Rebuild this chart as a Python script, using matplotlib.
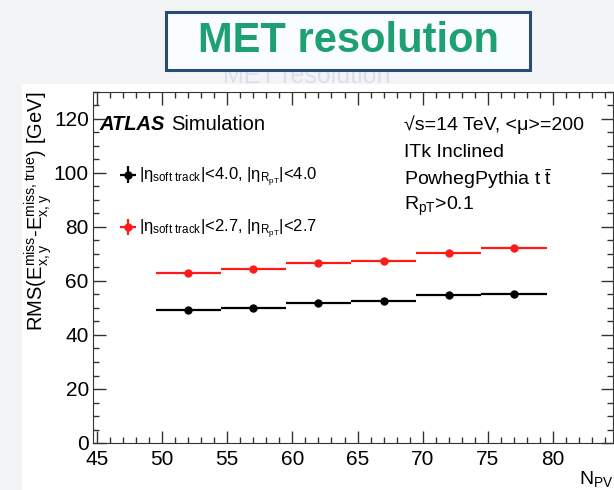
import matplotlib
matplotlib.use("Agg")
import matplotlib.pyplot as plt
from matplotlib.patches import Rectangle
import numpy as np

plt.rcParams['font.family'] = ['Liberation Sans', 'DejaVu Sans']
plt.rcParams['mathtext.fontset'] = 'custom'
plt.rcParams['mathtext.rm'] = 'Liberation Sans'
plt.rcParams['mathtext.it'] = 'Liberation Sans'
plt.rcParams['mathtext.bf'] = 'Liberation Sans:bold'

# ---- data ----
npv_centers = [52, 57, 62, 67, 72, 77]
bin_halfwidth = [2.5, 2.5, 2.5, 2.5, 2.5, 2.5]
rms_eta40 = [49.3, 50.0, 51.7, 52.7, 54.9, 55.0]
rms_eta27 = [62.9, 64.5, 66.6, 67.5, 70.5, 72.3]
err_eta40 = [0.3, 0.3, 0.3, 0.3, 0.3, 0.3]
err_eta27 = [0.3, 0.3, 0.3, 0.3, 0.3, 0.3]
xticks = [45, 50, 55, 60, 65, 70, 75, 80]
yticks = [0, 20, 40, 60, 80, 100, 120]

fig = plt.figure(figsize=(6.14, 4.9), dpi=100, facecolor='#f3f4f5')
# white panel behind chart
panel = Rectangle((22/614, 0), 1, 1 - 84/490, transform=fig.transFigure,
                  facecolor='white', edgecolor='none', zorder=-10)
fig.add_artist(panel)

ax = fig.add_axes([93/614, 1 - 443/490, (613 - 93)/614, (443 - 92)/490])
ax.set_zorder(1)
ax.set_facecolor('white')

ax.errorbar(npv_centers, rms_eta40, xerr=bin_halfwidth, yerr=err_eta40, fmt='o',
            color='black', ms=5, lw=1.6, capsize=0, label='eta40')
ax.errorbar(npv_centers, rms_eta27, xerr=bin_halfwidth, yerr=err_eta27, fmt='o',
            color='#ff1a1a', ms=5, lw=1.6, capsize=0, label='eta27')

ax.set_xlim(44.7, 84.6)
ax.set_ylim(0, 130)
ax.set_xticks(xticks)
ax.set_yticks(yticks)
ax.set_xticks(np.arange(45, 85, 1), minor=True)
ax.set_yticks(np.arange(0, 131, 5), minor=True)
ax.tick_params(which='both', direction='in', top=True, right=True, labelsize=15,
               color='#333333')
ax.tick_params(which='major', length=9, width=1)
ax.tick_params(which='minor', length=4.5, width=1)
ax.tick_params(axis='x', pad=5)
ax.tick_params(axis='y', pad=3)
for s in ax.spines.values():
    s.set_color('#333333')

ax.set_ylabel(r'RMS(E$_{x,y}^{miss}$-E$_{x,y}^{miss,true}$) [GeV]', fontsize=14.5,
              loc='top', labelpad=0)
ax.text(1.0, -0.075, r'N$_{PV}$', transform=ax.transAxes, ha='right', va='top', fontsize=14)

ytop = 0.906
t_atlas = ax.text(0.013, ytop, 'ATLAS', transform=ax.transAxes, fontsize=14.5,
                  fontweight='bold', fontstyle='italic', va='center')
ax.annotate('Simulation', xy=(1, 0.5), xycoords=t_atlas, xytext=(4, 0),
            textcoords='offset points', fontsize=14.5, va='center', ha='left')

rt = ['\u221As=14 TeV, <\u03bc>=200', 'ITk Inclined',
      r'PowhegPythia t $\bar{\rm t}$', r'R$_{pT}$>0.1']
for i, t in enumerate(rt):
    ax.text(0.598, ytop - i*0.077, t, transform=ax.transAxes, fontsize=14, va='center')

lab1 = r'|$\eta_{\rm soft\ track}$|<4.0, |$\eta_{R_{pT}}$|<4.0'
lab2 = r'|$\eta_{\rm soft\ track}$|<2.7, |$\eta_{R_{pT}}$|<2.7'
h, l = ax.get_legend_handles_labels()
leg = ax.legend(h, [lab1, lab2], loc='upper left', bbox_to_anchor=(0.04, 0.808),
                frameon=False, fontsize=12, handlelength=0.9, handletextpad=0.2,
                labelspacing=1.75, borderaxespad=0)

# faint ghost title
fig.text(0.5, 1 - 76/490, 'MET resolution', ha='center', va='center', fontsize=18,
         color='#c9d3e6', alpha=0.6, zorder=0.5)
# title box
box = Rectangle((166/614, 1 - 70/490), (530 - 166)/614, (70 - 12)/490,
                transform=fig.transFigure, facecolor='#f9fdff',
                edgecolor='#2c4a78', lw=2.2, zorder=5)
fig.add_artist(box)
fig.text(348/614, 1 - 41/490, 'MET resolution', ha='center', va='center',
         fontsize=30, fontweight='bold', color='#1fa072', zorder=6)

fig.savefig('out.png', dpi=100, facecolor=fig.get_facecolor())
